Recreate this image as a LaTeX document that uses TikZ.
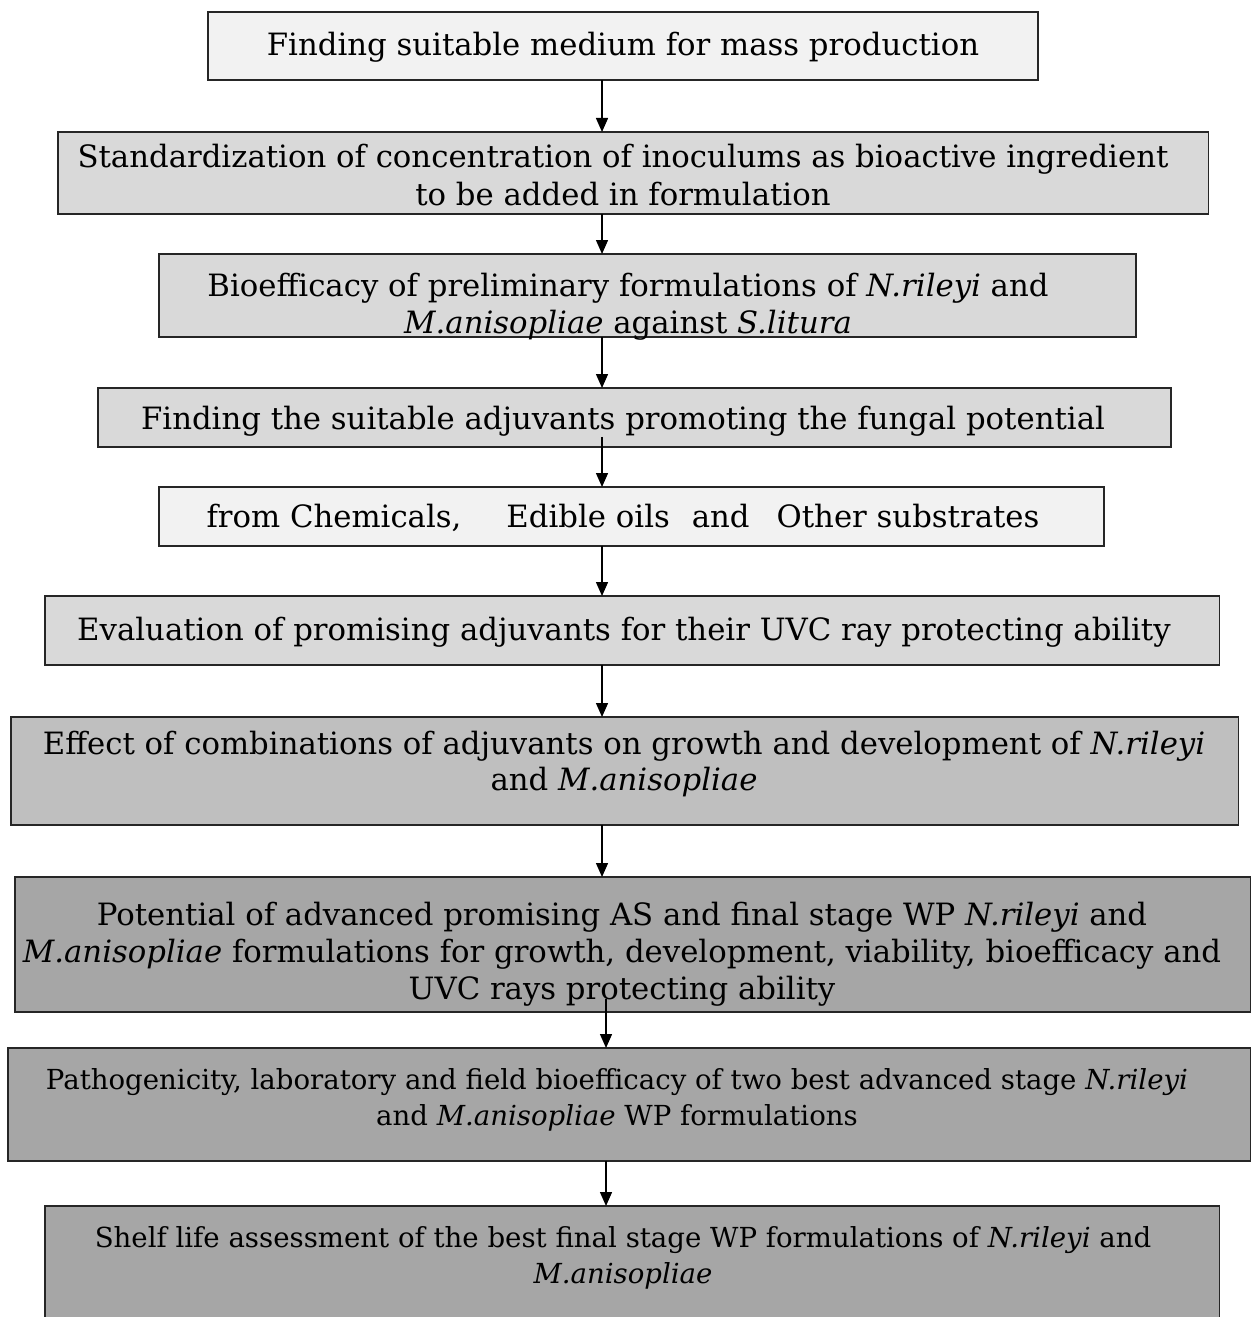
\documentclass[tikz,border=0pt]{standalone}
\usepackage{fontspec}
\setmainfont{DejaVu Serif}
\usetikzlibrary{arrows.meta,calc}

\begin{document}
\begin{tikzpicture}[x=0.02cm,y=-0.02cm]
      % Define styles for nodes
      \tikzstyle{stage} = [anchor=north west, draw=black!85, rectangle,
      line width=0.8pt, inner sep=0pt, outer sep=0pt]
      \tikzstyle{stagetext} = [align=center, inner sep=0pt,
      font=\fontsize{17.5}{21}\selectfont]
      \tikzstyle{smalltext} = [align=center, inner sep=0pt,
      font=\fontsize{15.7}{20.5}\selectfont]
      \tikzstyle{flow} = [-{Triangle[length=0.28cm,width=0.24cm]},
      line width=0.8pt]

      % Page size
      \useasboundingbox (0,0) rectangle (1254,1317);
      \clip (0,0) rectangle (1254,1317);

      % Boxes
      \node[stage, fill=white!95!black, minimum width=16.6cm, minimum height=1.36cm] (b1) at (208,12) {};
      \node[stage, fill=white!85!black, minimum width=23.02cm, minimum height=1.64cm] (b2) at (58,132) {};
      \node[stage, fill=white!85!black, minimum width=19.54cm, minimum height=1.66cm] (b3) at (159,254) {};
      \node[stage, fill=white!85!black, minimum width=21.46cm, minimum height=1.18cm] (b4) at (98,388) {};
      \node[stage, fill=white!95!black, minimum width=18.9cm, minimum height=1.18cm] (b5) at (159,487) {};
      \node[stage, fill=white!85!black, minimum width=23.5cm, minimum height=1.38cm] (b6) at (45,596) {};
      \node[stage, fill=white!75!black, minimum width=24.56cm, minimum height=2.16cm] (b7) at (11,717) {};
      \node[stage, fill=white!65!black, minimum width=24.72cm, minimum height=2.7cm] (b8) at (15,877) {};
      \node[stage, fill=white!65!black, minimum width=24.86cm, minimum height=2.26cm] (b9) at (8,1048) {};
      \node[stage, fill=white!65!black, minimum width=23.5cm, minimum height=2.6cm] (b10) at (45,1206) {};

      % Texts of the boxes
      \node[stagetext] (t1) at (623,47) {Finding suitable medium for mass production};
      \node[stagetext] (t2) at (623,175) {Standardization of concentration of inoculums as bioactive ingredient\\[1pt]
      to be added in formulation};
      \node[stagetext] (t3) at (628,307) {Bioefficacy of preliminary formulations of \textit{N.rileyi} and\\
      \textit{M.anisopliae} against \textit{S.litura}};
      \node[stagetext] (t4) at (623,421) {Finding the suitable adjuvants promoting the fungal potential};
      \node[stagetext] (t5) at (623,518) {from Chemicals,\hspace*{0.9cm}Edible oils\hspace*{0.44cm}and\hspace*{0.54cm}Other substrates};
      \node[stagetext] (t6) at (624,632) {Evaluation of promising adjuvants for their UVC ray protecting ability};
      \node[stagetext] (t7) at (624,764) {Effect of combinations of adjuvants on growth and development of \textit{N.rileyi}\\
      and \textit{M.anisopliae}};
      \node[stagetext] (t8) at (622,954) {Potential of advanced promising AS and final stage WP \textit{N.rileyi} and\\
      \textit{M.anisopliae} formulations for growth, development, viability, bioefficacy and\\
      UVC rays protecting ability};
      \node[smalltext] (t9) at (617,1100) {Pathogenicity, laboratory and field bioefficacy of two best advanced stage \textit{N.rileyi}\\
      and \textit{M.anisopliae} WP formulations};
      \node[smalltext] (t10) at (623,1258) {Shelf life assessment of the best final stage WP formulations of \textit{N.rileyi} and\\
      \textit{M.anisopliae}};

      % Arrows
      \coordinate (col) at (602,0);
      \coordinate (colb) at (606,0);
      \draw[flow] (b1.south -| col) -- (b2.north -| col);
      \draw[flow] (b2.south -| col) -- (b3.north -| col);
      \draw[flow] (b3.south -| col) -- (b4.north -| col);
      \draw[flow] ($(b4.south -| col)+(0,-10)$) -- (b5.north -| col);
      \draw[flow] (b5.south -| col) -- (b6.north -| col);
      \draw[flow] (b6.south -| col) -- (b7.north -| col);
      \draw[flow] (b7.south -| col) -- (b8.north -| col);
      \draw[flow] ($(b8.south -| colb)+(0,-13)$) -- (b9.north -| colb);
      \draw[flow] (b9.south -| colb) -- (b10.north -| colb);
\end{tikzpicture}
\end{document}
